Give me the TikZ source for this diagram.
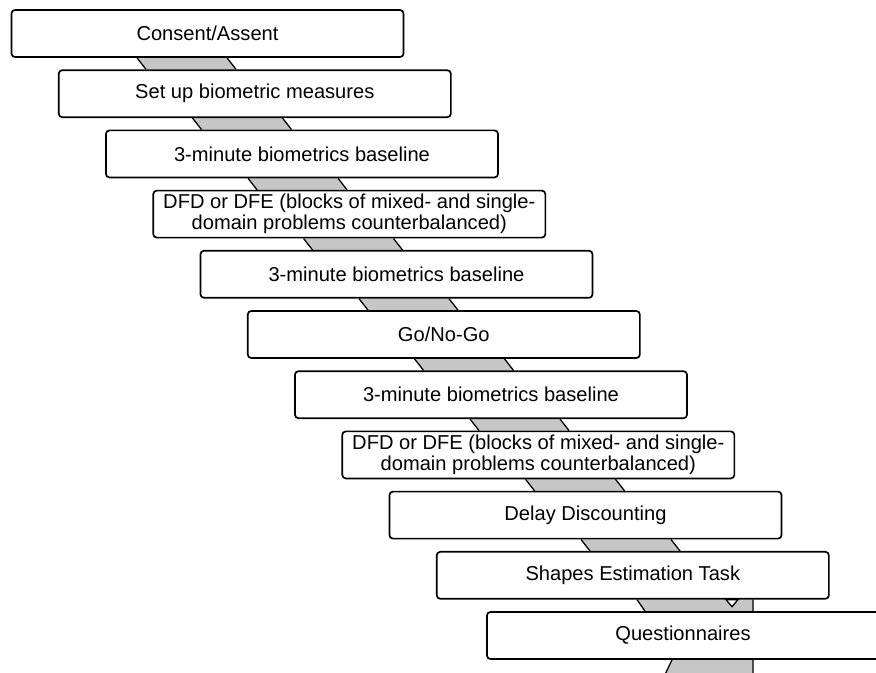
\documentclass[tikz,border=0pt]{standalone}
\usepackage{fontspec}
\setmainfont{Liberation Sans}
\usepackage{xcolor}
\usetikzlibrary{backgrounds}

\definecolor{linkgray}{RGB}{198,198,198}

\begin{document}
\begin{tikzpicture}[x=0.025cm,y=-0.025cm,
	stage/.style={draw,line width=1.2pt,rounded corners=2.5pt,fill=white,
		minimum width=9.8cm,minimum height=1.175cm,inner sep=0pt,align=center,
		font=\fontsize{14.3}{14.8}\selectfont},
	link/.style={fill=linkgray},
	linkedge/.style={line width=0.9pt}]
	\useasboundingbox (0,0) rectangle (876,672);
	%
	\node[stage] (consent) at (207.5,33.5) {Consent/Assent};
	\node[stage] (setup) at (254.8,93.7) {Set up biometric measures};
	\node[stage] (baseA) at (302,153.9) {3-minute biometrics baseline};
	\node[stage] (dfdA) at (349.3,214.1) {DFD or DFE (blocks of mixed- and single-\\domain problems counterbalanced)};
	\node[stage] (baseB) at (396.5,274.3) {3-minute biometrics baseline};
	\node[stage] (gonogo) at (443.8,334.5) {Go/No-Go};
	\node[stage] (baseC) at (491,394.7) {3-minute biometrics baseline};
	\node[stage] (dfdB) at (538.3,454.9) {DFD or DFE (blocks of mixed- and single-\\domain problems counterbalanced)};
	\node[stage] (delay) at (585.5,515.1) {Delay Discounting};
	\node[stage] (shapes) at (632.8,575.3) {Shapes Estimation Task};
	\node[stage] (quest) at (683,635.5) {Questionnaires};
	\coordinate (exit) at (660,685);
	%
	\begin{scope}[on background layer]
		\foreach \a/\b [count=\k from 0] in {consent/setup,setup/baseA,baseA/dfdA,dfdA/baseB,
			baseB/gonogo,gonogo/baseC,baseC/dfdB,dfdB/delay,delay/shapes} {
			\pgfmathsetmacro\lx{137+55.5*\k}
			\pgfmathsetmacro\rx{\lx+90}
			\pgfmathsetmacro\lb{\lx+9}
			\pgfmathsetmacro\rb{\rx+9}
			\fill[link] (\lx,0 |- \a.south) -- (\rx,0 |- \a.south) -- (\rb,0 |- \b.north) -- (\lb,0 |- \b.north) -- cycle;
			\draw[linkedge] (\lx,0 |- \a.south) -- (\lb,0 |- \b.north)
				(\rx,0 |- \a.south) -- (\rb,0 |- \b.north);
		}
		\fill[link] (637,0 |- shapes.south) -- (753,0 |- shapes.south) -- (753,0 |- quest.north) -- (645,0 |- quest.north) -- cycle;
		\draw[linkedge] (637,0 |- shapes.south) -- (645,0 |- quest.north)
			(753,0 |- shapes.south) -- (753,0 |- quest.north);
		\fill[link] (672,0 |- quest.south) -- (753,0 |- quest.south) -- (exit -| 753,0) -- (exit) -- cycle;
		\draw[linkedge] (672,0 |- quest.south) -- (exit)
			(753,0 |- quest.south) -- (exit -| 753,0);
	\end{scope}
	\draw[linkedge,fill=white] (726,0 |- shapes.south) -- ++(12,0) -- ++(-6,7) -- cycle;
\end{tikzpicture}
\end{document}
